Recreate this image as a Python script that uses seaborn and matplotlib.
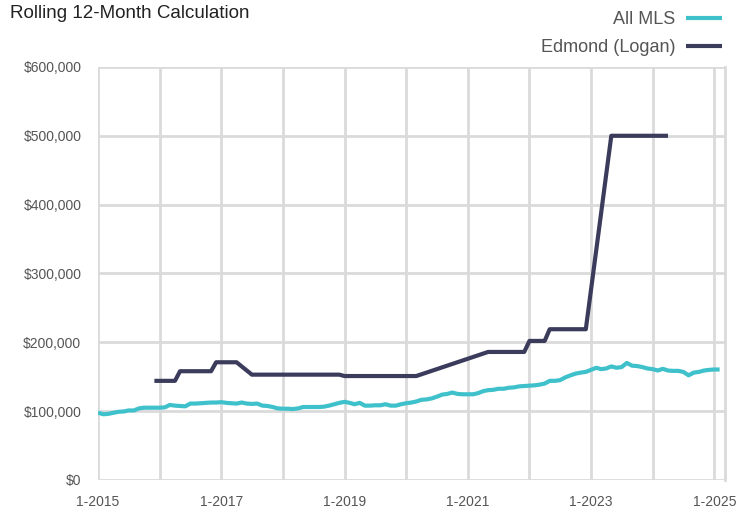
import numpy as np
import pandas as pd
import seaborn as sns
import matplotlib.pyplot as plt
import matplotlib.dates as mdates
from matplotlib.ticker import FuncFormatter, MultipleLocator

#Data_________________________________________________________________________
months = pd.date_range('2015-01-01', periods=122, freq='MS')

#All MLS, thousands of $
all_mls = [97.8, 95.5, 96, 97.5, 99, 99.5, 101, 101, 104, 105, 105, 105,
           105, 105.5, 109, 108, 107.5, 107, 111, 111, 111.5, 112, 112.5, 112.5,
           113, 112, 111.5, 111, 112.5, 111, 110.5, 111, 108, 107.5, 106, 104,
           103.5, 103.5, 103, 104, 106, 106, 106, 106, 106.5, 108, 110, 112,
           113.5, 112, 110, 112, 108, 108, 108.5, 108.5, 110, 108, 108, 110,
           111.5, 112.5, 114, 116.5, 117, 118.5, 121, 124, 125, 127, 125, 124.5,
           124.5, 124.5, 126, 129, 130.5, 131, 132.5, 132.5, 134, 134.5, 136, 136.5,
           137, 137.5, 138.5, 140, 144, 144, 145, 149, 152, 154.5, 156, 157,
           160, 163, 161, 162, 165, 163, 164, 170, 166, 165.5, 164, 162,
           161, 159, 161.5, 159, 158.5, 158.5, 157, 152, 156, 157, 159, 160,
           160.5, 160.5]

#Edmond (Logan), thousands of $ (None = no sale that month)
edmond = ([None] * 11 + [144] * 5 + [158] * 7 + [171] * 5 + [None] * 2
          + [153] * 18 + [151] * 15 + [None] * 13 + [186] * 8 + [202] * 4
          + [219] * 8 + [None] * 4 + [500] * 12 + [None] * 10)

df = pd.DataFrame({'date': months,
                   'All MLS': np.array(all_mls) * 1000,
                   'Edmond (Logan)': np.array(edmond, dtype=float) * 1000})

#Plot_________________________________________________________________________
sns.set_style('white')
plt.rcParams['font.family'] = ['Liberation Sans', 'DejaVu Sans']

teal = '#3fc1cb'
navy = '#3b3c5c'
grid_c = '#dadada'
txt_c = '#555555'

fig = plt.figure(figsize=(7.5, 5.15), dpi=100)
ax = fig.add_axes([0.1307, 0.068, 0.836, 0.802])

for col, color in [('All MLS', teal), ('Edmond (Logan)', navy)]:
    sub = df[['date', col]].dropna()
    sns.lineplot(data=sub, x='date', y=col, ax=ax, color=color,
                 linewidth=3, label=col, solid_capstyle='butt')

ax.set_xlim(pd.Timestamp('2015-01-01'), pd.Timestamp('2025-03-05'))
ax.set_ylim(0, 600000)
ax.yaxis.set_major_locator(MultipleLocator(100000))
ax.yaxis.set_major_formatter(FuncFormatter(lambda v, p: '${:,.0f}'.format(v)))
ax.xaxis.set_major_locator(mdates.YearLocator(1))
ax.xaxis.set_major_formatter(FuncFormatter(
    lambda v, p: '1-%d' % mdates.num2date(v).year
    if mdates.num2date(v).year % 2 == 1 else ''))

ax.grid(True, color=grid_c, linewidth=2)
ax.set_axisbelow(True)
for s in ['top', 'left', 'bottom']:
    ax.spines[s].set_visible(False)
ax.spines['right'].set_color(grid_c)
ax.spines['right'].set_linewidth(2)
ax.tick_params(axis='both', colors=grid_c, labelcolor=txt_c, labelsize=10,
               length=6, width=2, pad=6)
ax.tick_params(axis='x', pad=5)
ax.set_xlabel('')
ax.set_ylabel('')

fig.text(0.014, 0.99, 'Rolling 12-Month Calculation', fontsize=13.5,
         color='#222222', va='top', ha='left')

ax.legend_.remove()
handles, labels = ax.get_legend_handles_labels()
fig.legend(handles, labels, loc='upper right', bbox_to_anchor=(0.985, 1.01),
           frameon=False, markerfirst=False, fontsize=13, labelcolor=txt_c,
           handlelength=2.0, handletextpad=0.6, labelspacing=0.6)

fig.savefig('out.png', dpi=100)
